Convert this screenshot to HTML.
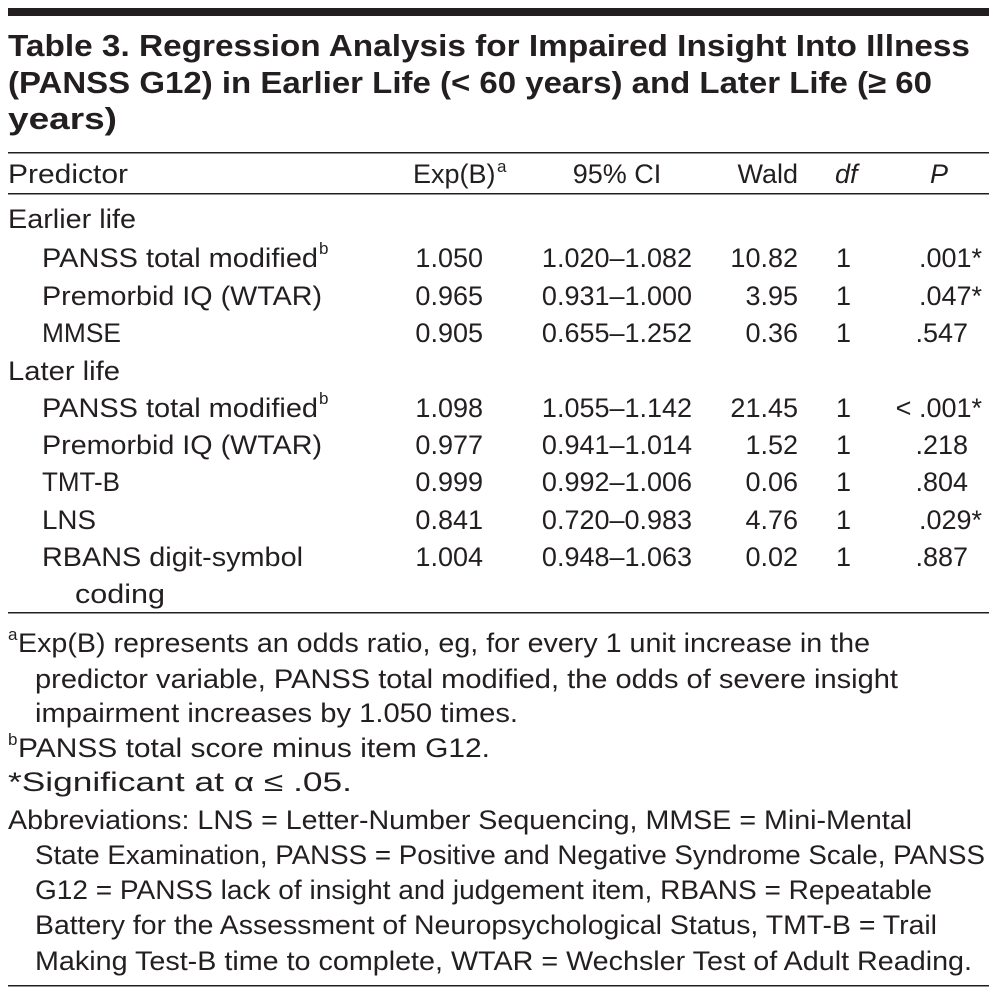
<!DOCTYPE html>
<html><head><meta charset="utf-8"><style>
html,body{margin:0;padding:0;background:#fff;}
svg{display:block;}
text{font-family:"Liberation Sans",sans-serif;fill:#231f20;font-size:27px;}
.t{font-weight:bold;font-size:31px;}
.i{font-style:italic;}
.s{font-size:17px;}
</style></head><body>
<svg width="997" height="995" viewBox="0 0 997 995">
<rect x="8" y="8" width="981" height="8" fill="#231f20"/>
<g>
<text class="t" x="8" y="56" textLength="962" lengthAdjust="spacingAndGlyphs">Table 3. Regression Analysis for Impaired Insight Into Illness</text>
<text class="t" x="8" y="93" textLength="924" lengthAdjust="spacingAndGlyphs">(PANSS G12) in Earlier Life (&lt; 60 years) and Later Life (≥ 60</text>
<text class="t" x="8" y="129" textLength="109" lengthAdjust="spacingAndGlyphs">years)</text>
</g>
<rect x="8" y="152" width="981" height="1.5" fill="#231f20"/>
<g>
<text x="8" y="183" textLength="120" lengthAdjust="spacingAndGlyphs">Predictor</text>
<text x="413" y="183">Exp(B)</text><text class="s" x="497" y="172">a</text>
<text x="617" y="183" text-anchor="middle">95% CI</text>
<text x="798" y="183" text-anchor="end">Wald</text>
<text class="i" x="835" y="183">df</text>
<text class="i" x="930" y="183">P</text>
</g>
<rect x="8" y="193" width="981" height="1.5" fill="#231f20"/>
<g>
<text x="8" y="228" textLength="128" lengthAdjust="spacingAndGlyphs">Earlier life</text>

<text x="42" y="267" textLength="276" lengthAdjust="spacingAndGlyphs">PANSS total modified</text><text class="s" x="319" y="254">b</text>
<text x="483" y="267" text-anchor="end">1.050</text><text x="617" y="267" text-anchor="middle">1.020–1.082</text><text x="798" y="267" text-anchor="end">10.82</text><text x="836" y="267">1</text><text x="982" y="267" text-anchor="end">.001*</text>

<text x="42" y="305" textLength="280" lengthAdjust="spacingAndGlyphs">Premorbid IQ (WTAR)</text>
<text x="483" y="305" text-anchor="end">0.965</text><text x="617" y="305" text-anchor="middle">0.931–1.000</text><text x="798" y="305" text-anchor="end">3.95</text><text x="836" y="305">1</text><text x="982" y="305" text-anchor="end">.047*</text>

<text x="42" y="342" textLength="79" lengthAdjust="spacingAndGlyphs">MMSE</text>
<text x="483" y="342" text-anchor="end">0.905</text><text x="617" y="342" text-anchor="middle">0.655–1.252</text><text x="798" y="342" text-anchor="end">0.36</text><text x="836" y="342">1</text><text x="968" y="342" text-anchor="end">.547</text>

<text x="8" y="380" textLength="112" lengthAdjust="spacingAndGlyphs">Later life</text>

<text x="42" y="417" textLength="276" lengthAdjust="spacingAndGlyphs">PANSS total modified</text><text class="s" x="319" y="404">b</text>
<text x="483" y="417" text-anchor="end">1.098</text><text x="617" y="417" text-anchor="middle">1.055–1.142</text><text x="798" y="417" text-anchor="end">21.45</text><text x="836" y="417">1</text><text x="982" y="417" text-anchor="end">&lt; .001*</text>

<text x="42" y="454" textLength="280" lengthAdjust="spacingAndGlyphs">Premorbid IQ (WTAR)</text>
<text x="483" y="454" text-anchor="end">0.977</text><text x="617" y="454" text-anchor="middle">0.941–1.014</text><text x="798" y="454" text-anchor="end">1.52</text><text x="836" y="454">1</text><text x="968" y="454" text-anchor="end">.218</text>

<text x="42" y="491" textLength="78" lengthAdjust="spacingAndGlyphs">TMT-B</text>
<text x="483" y="491" text-anchor="end">0.999</text><text x="617" y="491" text-anchor="middle">0.992–1.006</text><text x="798" y="491" text-anchor="end">0.06</text><text x="836" y="491">1</text><text x="968" y="491" text-anchor="end">.804</text>

<text x="42" y="529" textLength="54" lengthAdjust="spacingAndGlyphs">LNS</text>
<text x="483" y="529" text-anchor="end">0.841</text><text x="617" y="529" text-anchor="middle">0.720–0.983</text><text x="798" y="529" text-anchor="end">4.76</text><text x="836" y="529">1</text><text x="982" y="529" text-anchor="end">.029*</text>

<text x="42" y="566" textLength="261" lengthAdjust="spacingAndGlyphs">RBANS digit-symbol</text>
<text x="483" y="566" text-anchor="end">1.004</text><text x="617" y="566" text-anchor="middle">0.948–1.063</text><text x="798" y="566" text-anchor="end">0.02</text><text x="836" y="566">1</text><text x="968" y="566" text-anchor="end">.887</text>
<text x="75" y="603" textLength="90" lengthAdjust="spacingAndGlyphs">coding</text>
</g>
<rect x="8" y="612" width="981" height="1.5" fill="#231f20"/>
<g>
<text class="s" x="8" y="640">a</text>
<text x="18" y="652" textLength="852" lengthAdjust="spacingAndGlyphs">Exp(B) represents an odds ratio, eg, for every 1 unit increase in the</text>
<text x="35" y="688" textLength="863" lengthAdjust="spacingAndGlyphs">predictor variable, PANSS total modified, the odds of severe insight</text>
<text x="35" y="722" textLength="483" lengthAdjust="spacingAndGlyphs">impairment increases by 1.050 times.</text>
<text class="s" x="8" y="745">b</text>
<text x="18" y="757" textLength="472" lengthAdjust="spacingAndGlyphs">PANSS total score minus item G12.</text>
<text x="8" y="791" style="font-size:27px" textLength="344" lengthAdjust="spacingAndGlyphs">*Significant at α ≤ .05.</text>
<text x="8" y="829" textLength="904" lengthAdjust="spacingAndGlyphs">Abbreviations: LNS = Letter-Number Sequencing, MMSE = Mini-Mental</text>
<text x="35" y="864" textLength="950" lengthAdjust="spacingAndGlyphs">State Examination, PANSS = Positive and Negative Syndrome Scale, PANSS</text>
<text x="35" y="899" textLength="897" lengthAdjust="spacingAndGlyphs">G12 = PANSS lack of insight and judgement item, RBANS = Repeatable</text>
<text x="35" y="934" textLength="902" lengthAdjust="spacingAndGlyphs">Battery for the Assessment of Neuropsychological Status, TMT-B = Trail</text>
<text x="35" y="970" textLength="937" lengthAdjust="spacingAndGlyphs">Making Test-B time to complete, WTAR = Wechsler Test of Adult Reading.</text>
</g>
<rect x="8" y="985" width="981" height="1.5" fill="#231f20"/>
</svg>
</body></html>
